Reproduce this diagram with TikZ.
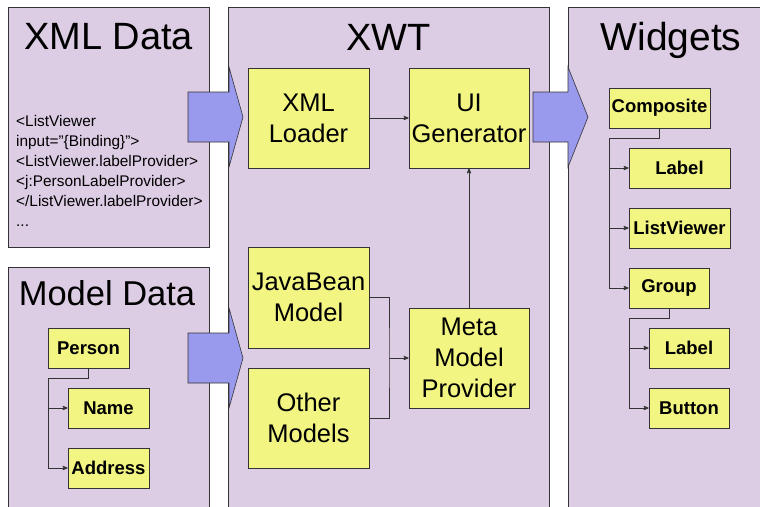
\documentclass[tikz,border=0pt]{standalone}
\usepackage{fontspec}
\setmainfont{Liberation Sans}
\usetikzlibrary{arrows}

\definecolor{panelfill}{RGB}{220,204,228}
\definecolor{boxfill}{RGB}{242,245,130}
\definecolor{arrowfill}{RGB}{153,153,238}
\definecolor{edge}{RGB}{51,51,51}

\begin{document}
\begin{tikzpicture}[
			x=1pt, y=-1pt,
			>=stealth',
			panel/.style={draw=edge, fill=panelfill, line width=0.9pt},
			title/.style={anchor=base, inner sep=0, font={\fontsize{38}{40}\selectfont}},
			code/.style={anchor=base west, inner sep=0, font={\fontsize{15.4}{19}\selectfont}},
			block/.style={draw=edge, fill=boxfill, line width=0.8pt, inner sep=0, align=center,
				minimum width=121, minimum height=100, font={\fontsize{25.5}{31}\selectfont}},
			leaf/.style={block, minimum width=81, minimum height=40, font={\fontsize{18.5}{20}\selectfont\bfseries}},
			wire/.style={draw=edge, line width=0.8pt},
			fat arrow/.style={draw=edge, fill=arrowfill, line width=0.6pt}
	]
	\clip (0,0) rectangle (760,506);

	% panels
	\draw[panel] (8,7) rectangle (209,247);
	\draw[panel] (8,267) rectangle (209,520);
	\draw[panel] (228,7) rectangle (549,520);
	\draw[panel] (568,7) rectangle (780,520);

	\node[title] (xmltitle) at (108.5,49) {XML Data};
	\node[title, font={\fontsize{34.5}{36}\selectfont}] (modeltitle) at (107,305) {Model Data};
	\node[title] (xwttitle) at (388.5,50) {XWT};
	\node[title, font={\fontsize{39}{40}\selectfont}] (widgettitle) at (671,50) {Widgets};

	\foreach \line [count=\i] in {<ListViewer, input="\{Binding\}">, <ListViewer.labelProvider>,
			<j:PersonLabelProvider>, </ListViewer.labelProvider>, .{}.{}.}
		\node[code] (xml\i) at (16,{126+20*(\i-1)}) {\line};

	% >> fat arrows between the panels
	\foreach \x/\y/\len/\head in {188/117/41/14, 188/358/41/14, 533/117/35/20}
		\draw[fat arrow] (\x,{\y-25}) -- ++(\len,0) -- ++(0,-25) -- ++(\head,50)
			-- ++(-\head,50) -- ++(0,-25) -- ++(-\len,0) -- cycle;

	% >> XWT
	\node[block] (loader) at (308.5,118) {XML\\Loader};
	\node[block, minimum width=120] (generator) at (469,118) {UI\\Generator};
	\node[block, minimum height=101] (javabean) at (308.5,297.5) {JavaBean\\Model};
	\node[block] (other) at (308.5,418) {Other\\Models};
	\node[block, minimum width=120] (meta) at (469,358) {Meta\\Model\\Provider};

	\draw[wire,->] (loader) -- (generator);
	\draw[wire,->] (meta) -- (generator);
	\coordinate (join) at (389,358);
	\draw[wire] (javabean.east) -| (join) |- (other.east);
	\draw[wire,->] (join) -- (meta);

	% >> model data
	\node[leaf] (person) at (88.5,348) {Person};
	\node[leaf] (name) at (108.5,408) {Name};
	\node[leaf] (address) at (108.5,468) {Address};

	\coordinate (personbend) at (48,378);
	\draw[wire,->] (person.south) |- (personbend) |- (address.west);
	\draw[wire,->] (personbend) |- (name.west);

	% >> widgets
	\node[leaf, minimum width=101] (composite) at (659.5,108) {Composite};
	\node[leaf, minimum width=101] (label) at (679.5,168) {Label};
	\node[leaf, minimum width=101] (listviewer) at (679.5,228) {ListViewer};
	\node[leaf, minimum width=80] (group) at (669,288) {Group};
	\node[leaf, minimum width=80] (grouplabel) at (689,348) {Label};
	\node[leaf, minimum width=80] (button) at (689,408) {Button};

	\coordinate (compbend) at (609,138);
	\draw[wire,->] (composite.south) |- (compbend) |- (group.west);
	\draw[wire,->] (compbend) |- (label.west);
	\draw[wire,->] (compbend) |- (listviewer.west);

	\coordinate (groupbend) at (629,318);
	\draw[wire,->] (group.south) |- (groupbend) |- (button.west);
	\draw[wire,->] (groupbend) |- (grouplabel.west);
\end{tikzpicture}
\end{document}
